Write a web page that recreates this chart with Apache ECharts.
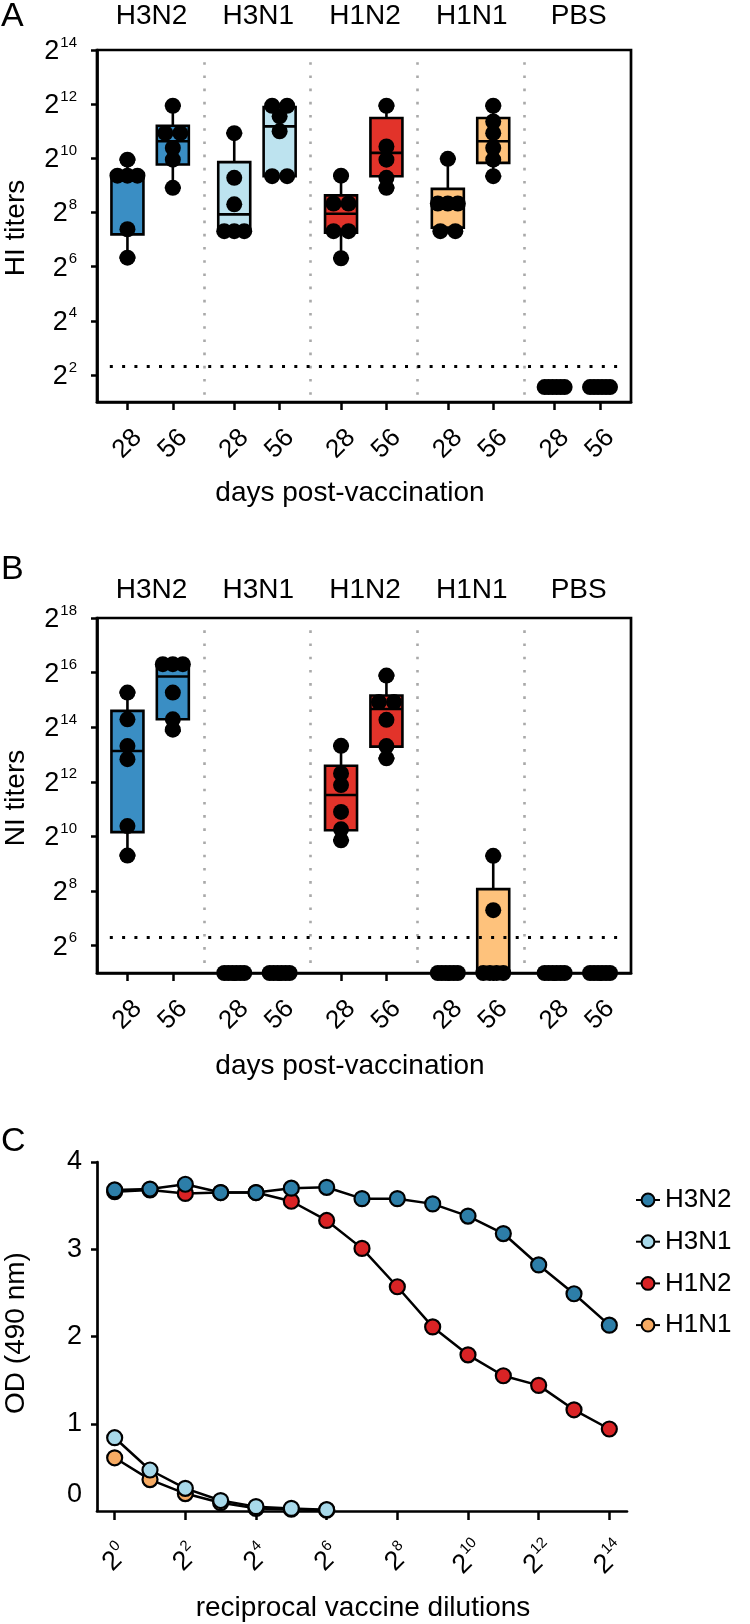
<!DOCTYPE html>
<html><head><meta charset="utf-8">
<script src="https://cdn.jsdelivr.net/npm/echarts@6/dist/echarts.min.js"></script>
<style>html,body{margin:0;padding:0;background:#fff}#c{width:750px;height:1624px}</style>
</head><body><div id="c"></div>
<script>
// ---------- DATA ----------
const groups = ['H3N2', 'H3N1', 'H1N2', 'H1N1', 'PBS'];
const dayLabels = ['28', '56'];

// Panel A: HI titers (log2 exponents), six animals each
const hi_H3N2_d28 = [9.95, 9.36, 9.36, 9.36, 7.38, 6.33];
const hi_H3N2_d56 = [11.94, 10.93, 10.93, 10.38, 9.95, 8.91];
const hi_H3N1_d28 = [10.93, 9.28, 8.30, 7.31, 7.31, 7.31];
const hi_H3N1_d56 = [11.94, 11.94, 11.55, 11.00, 9.34, 9.34];
const hi_H1N2_d28 = [9.36, 8.33, 8.33, 7.31, 7.31, 6.31];
const hi_H1N2_d56 = [11.94, 10.44, 9.95, 9.28, 8.91];
const hi_H1N1_d28 = [9.98, 8.33, 8.33, 8.33, 7.31, 7.31];
const hi_H1N1_d56 = [11.94, 11.36, 10.93, 10.38, 9.95, 9.34];
const hi_PBS_d28 = [1.55, 1.55, 1.55, 1.55, 1.55, 1.55];
const hi_PBS_d56 = [1.55, 1.55, 1.55, 1.55, 1.55, 1.55];
// box stats [min, q1, median, q3, max]
const hiBox_H3N2 = [[6.33, 7.19, 9.36, 9.46, 9.95], [8.91, 9.77, 10.63, 11.20, 11.94]];
const hiBox_H3N1 = [[7.31, 7.31, 7.93, 9.86, 10.93], [9.34, 9.34, 11.18, 11.89, 11.94]];
const hiBox_H1N2 = [[6.31, 7.25, 7.95, 8.63, 9.36], [8.91, 9.34, 10.20, 11.49, 11.94]];
const hiBox_H1N1 = [[7.31, 7.44, 8.33, 8.87, 9.98], [9.34, 9.83, 10.63, 11.49, 11.94]];
const hiBox_PBS = [[1.55, 1.55, 1.55, 1.55, 1.55], [1.55, 1.55, 1.55, 1.55, 1.55]];
const hiLimit = 2.32;

// Panel B: NI titers (log2 exponents)
const ni_H3N2_d28 = [15.27, 14.29, 13.31, 12.83, 10.38, 9.30];
const ni_H3N2_d56 = [16.31, 16.31, 16.31, 15.27, 14.29, 13.91];
const ni_H3N1_d28 = [5, 5, 5, 5, 5, 5];
const ni_H3N1_d56 = [5, 5, 5, 5, 5, 5];
const ni_H1N2_d28 = [13.32, 12.31, 11.88, 10.90, 10.26, 9.86];
const ni_H1N2_d56 = [15.89, 14.92, 14.92, 14.27, 13.31, 12.86];
const ni_H1N1_d28 = [5, 5, 5, 5, 5, 5];
const ni_H1N1_d56 = [9.29, 7.30, 5, 5, 5, 5];
const ni_PBS_d28 = [5, 5, 5, 5, 5, 5];
const ni_PBS_d56 = [5, 5, 5, 5, 5, 5];
const niBox_H3N2 = [[9.30, 10.16, 13.13, 14.60, 15.27], [13.87, 14.29, 15.86, 16.31, 16.31]];
const niBox_H3N1 = [[5, 5, 5, 5, 5], [5, 5, 5, 5, 5]];
const niBox_H1N2 = [[9.86, 10.23, 11.52, 12.59, 13.32], [12.86, 13.29, 14.67, 15.16, 15.89]];
const niBox_H1N1 = [[5, 5, 5, 5, 5], [5, 5, 5, 8.07, 9.29]];
const niBox_PBS = [[5, 5, 5, 5, 5], [5, 5, 5, 5, 5]];
const niLimit = 6.32;

// Panel C: OD (490 nm) vs log2 reciprocal dilution
const dilutionExp = [0, 1, 2, 3, 4, 5, 6, 7, 8, 9, 10, 11, 12, 13, 14];
const od_H3N2 = [3.68, 3.69, 3.745, 3.65, 3.65, 3.70, 3.71, 3.58, 3.58, 3.52, 3.38, 3.18, 2.82, 2.49, 2.13];
const od_H1N2 = [3.66, 3.68, 3.64, 3.65, 3.65, 3.55, 3.33, 3.01, 2.57, 2.11, 1.79, 1.55, 1.44, 1.16, 0.94];
const od_H3N1 = [0.84, 0.47, 0.26, 0.12, 0.05, 0.03, 0.015];
const od_H1N1 = [0.61, 0.36, 0.20, 0.095, 0.03, 0.02, 0.01];

const yTicksA = [2, 4, 6, 8, 10, 12, 14];
const yTicksB = [6, 8, 10, 12, 14, 16, 18];
const xTicksC = [0, 2, 4, 6, 8, 10, 12, 14];

// ---------- STYLE / LAYOUT ----------
const FONT = "'Liberation Sans', Arial, Helvetica, sans-serif";
const boxColors = ['#3a8ec4', '#bde3ef', '#e2332a', '#fec27c', '#d0d0d0'];
const lineColors = {H3N2: '#2d7ea8', H3N1: '#a8d9ea', H1N2: '#d92325', H1N1: '#f7ab63'};
const dayPos = [0.285, 0.71];
const gA = {left: 97, top: 50, width: 534, height: 352};
const gB = {left: 97, top: 618, width: 534, height: 355};
const gC = {left: 97, top: 1162, width: 530, height: 349};
const yA = [1, 14], yB = [5, 18];
const AX = 2.7;
const DOT = 16;

const hiDots = [[hi_H3N2_d28, hi_H3N2_d56], [hi_H3N1_d28, hi_H3N1_d56], [hi_H1N2_d28, hi_H1N2_d56], [hi_H1N1_d28, hi_H1N1_d56], [hi_PBS_d28, hi_PBS_d56]];
const hiBoxes = [hiBox_H3N2, hiBox_H3N1, hiBox_H1N2, hiBox_H1N1, hiBox_PBS];
const niDots = [[ni_H3N2_d28, ni_H3N2_d56], [ni_H3N1_d28, ni_H3N1_d56], [ni_H1N2_d28, ni_H1N2_d56], [ni_H1N1_d28, ni_H1N1_d56], [ni_PBS_d28, ni_PBS_d56]];
const niBoxes = [niBox_H3N2, niBox_H3N1, niBox_H1N2, niBox_H1N1, niBox_PBS];

// cluster nearly-equal values side by side (pixel offsets)
function swarm(vals) {
  const idx = vals.map((v, i) => i).sort((a, b) => vals[a] - vals[b]);
  const off = new Array(vals.length).fill(0);
  let i = 0;
  while (i < idx.length) {
    let j = i;
    while (j + 1 < idx.length && vals[idx[j + 1]] - vals[idx[i]] < 0.3) j++;
    const n = j - i + 1;
    if (n > 1) {
      const sp = n === 2 ? 15 : Math.min(10, 20 / (n - 1));
      for (let k = 0; k < n; k++) off[idx[i + k]] = (k - (n - 1) / 2) * sp;
    }
    i = j + 1;
  }
  return off;
}

function buildDots(dots, grid) {
  const pxPerGroup = grid.width / 5;
  const out = [];
  dots.forEach((pair, gi) => pair.forEach((vals, di) => {
    const off = swarm(vals);
    vals.forEach((v, k) => out.push([gi + dayPos[di] + off[k] / pxPerGroup, v]));
  }));
  return out;
}
function buildBoxes(boxes) {
  const out = [];
  boxes.forEach((pair, gi) => pair.forEach((b, di) => out.push([gi + dayPos[di], ...b, gi])));
  return out;
}
function renderBox(params, api) {
  const x = api.value(0);
  const p = k => api.coord([x, api.value(k)]);
  const pMin = p(1), pQ1 = p(2), pMed = p(3), pQ3 = p(4), pMax = p(5);
  const cx = pMin[0], bw = 32, cap = 8;
  const st = {stroke: '#000', lineWidth: 2.6};
  return {type: 'group', children: [
    {type: 'line', shape: {x1: cx, y1: pMin[1], x2: cx, y2: pQ1[1]}, style: st},
    {type: 'line', shape: {x1: cx, y1: pQ3[1], x2: cx, y2: pMax[1]}, style: st},
    {type: 'line', shape: {x1: cx - cap, y1: pMin[1], x2: cx + cap, y2: pMin[1]}, style: st},
    {type: 'line', shape: {x1: cx - cap, y1: pMax[1], x2: cx + cap, y2: pMax[1]}, style: st},
    {type: 'rect', shape: {x: cx - bw / 2, y: pQ3[1], width: bw, height: pQ1[1] - pQ3[1]},
      style: {fill: boxColors[api.value(6)], stroke: '#000', lineWidth: 2.6}},
    {type: 'line', shape: {x1: cx - bw / 2, y1: pMed[1], x2: cx + bw / 2, y2: pMed[1]}, style: st}
  ]};
}

const supRich = {
  b: {fontSize: 27, fontFamily: FONT, color: '#000', verticalAlign: 'bottom', lineHeight: 30},
  s: {fontSize: 15, fontFamily: FONT, color: '#000', verticalAlign: 'top', lineHeight: 30, padding: [0, 0, 0, 1]}
};

function catXAxis(gridIndex) {
  const ticks = [];
  for (let g = 0; g < groups.length; g++) dayPos.forEach(d => ticks.push(g + d));
  return {
    type: 'value', gridIndex, min: 0, max: 5, position: 'bottom',
    axisLine: {show: true, onZero: false, lineStyle: {color: '#000', width: AX}},
    axisTick: {show: true, customValues: ticks, length: 8, inside: false, lineStyle: {color: '#000', width: 2.5}},
    splitLine: {show: false},
    axisLabel: {
      customValues: ticks, rotate: 45, align: 'center', verticalAlign: 'middle', margin: 42,
      fontSize: 26, fontFamily: FONT, color: '#000',
      formatter: v => dayLabels[(v - Math.floor(v)) < 0.5 ? 0 : 1]
    }
  };
}
function logYAxis(gridIndex, range, ticks) {
  return {
    type: 'value', gridIndex, min: range[0], max: range[1],
    axisLine: {show: true, onZero: false, lineStyle: {color: '#000', width: AX}},
    axisTick: {show: true, customValues: ticks, length: 6, lineStyle: {color: '#000', width: 2.5}},
    splitLine: {show: false},
    axisLabel: {customValues: ticks, margin: 20, formatter: v => `{b|2}{s|${v}}`, rich: supRich}
  };
}
function markLines(range, limit) {
  const sepStyle = {color: '#a9a9a9', type: [2.6, 10.6], width: 2.6};
  const seps = [1, 2, 3, 4].map(x => [{coord: [x, range[1] - 0.45], lineStyle: sepStyle}, {coord: [x, range[0]]}]);
  return {
    silent: true, symbol: ['none', 'none'], label: {show: false}, animation: false,
    data: seps.concat([[{coord: [0.12, limit], lineStyle: {color: '#000', type: [3, 9.3], width: 3}}, {coord: [4.94, limit]}]])
  };
}

const chart = echarts.init(document.getElementById('c'), null, {renderer: 'canvas', width: 750, height: 1624});

const gridCommon = {show: true, borderColor: '#000', borderWidth: AX, backgroundColor: 'transparent', containLabel: false};
const graphics = [];
function txt(text, x, y, size, opts = {}) {
  graphics.push(Object.assign({type: 'text', x, y, silent: true,
    style: {text, fontSize: size, fontFamily: FONT, fill: '#000', align: opts.align || 'center', verticalAlign: 'middle'}},
    opts.rotation ? {rotation: opts.rotation} : {}));
}
txt('A', 1, 17, 34, {align: 'left'});
txt('B', 1, 570, 34, {align: 'left'});
txt('C', 1, 1142, 34, {align: 'left'});
groups.forEach((g, i) => {
  txt(g, gA.left + (i + 0.51) * gA.width / 5, 16, 28);
  txt(g, gB.left + (i + 0.51) * gB.width / 5, 590, 28);
});
txt('days post-vaccination', 350, 493, 28);
txt('days post-vaccination', 350, 1066, 28);
txt('reciprocal vaccine dilutions', 363, 1608, 28);
txt('HI titers', 16, 228, 28, {rotation: Math.PI / 2});
txt('NI titers', 16, 798, 28, {rotation: Math.PI / 2});
txt('OD (490 nm)', 16, 1333, 28, {rotation: Math.PI / 2});

function lineSeries(name, data) {
  return {
    name, type: 'line', xAxisIndex: 2, yAxisIndex: 2, clip: false,
    data: data.map((v, i) => [dilutionExp[i], v]),
    symbol: 'circle', symbolSize: 15, showSymbol: true,
    lineStyle: {color: '#000', width: 2.5},
    itemStyle: {color: lineColors[name], borderColor: '#000', borderWidth: 2.2}
  };
}
function dotSeries(idx, data, range, limit) {
  return {type: 'scatter', xAxisIndex: idx, yAxisIndex: idx, clip: false, symbolSize: DOT,
    itemStyle: {color: '#000', opacity: 1}, emphasis: {disabled: true}, data, z: 3,
    markLine: markLines(range, limit)};
}

const option = {
  animation: false,
  backgroundColor: '#fff',
  grid: [Object.assign({}, gridCommon, gA), Object.assign({}, gridCommon, gB),
         Object.assign({}, gC, {show: false, containLabel: false})],
  xAxis: [catXAxis(0), catXAxis(1), {
    type: 'value', gridIndex: 2, min: -0.5, max: 14.5,
    axisLine: {show: true, onZero: false, lineStyle: {color: '#000', width: AX}},
    axisTick: {show: true, customValues: xTicksC, length: 9, lineStyle: {color: '#000', width: 2.5}},
    splitLine: {show: false},
    axisLabel: {customValues: xTicksC, rotate: 45, align: 'center', verticalAlign: 'middle', margin: 46,
      formatter: v => `{b|2}{s|${v}}`, rich: supRich}
  }],
  yAxis: [logYAxis(0, yA, yTicksA), logYAxis(1, yB, yTicksB), {
    type: 'value', gridIndex: 2, min: 0, max: 4, interval: 1,
    axisLine: {show: true, onZero: false, lineStyle: {color: '#000', width: AX}},
    axisTick: {show: true, customValues: [1, 2, 3, 4], length: 6, lineStyle: {color: '#000', width: 2.5}},
    splitLine: {show: false},
    axisLabel: {margin: 15, fontSize: 27, fontFamily: FONT, color: '#000',
      formatter: v => v === 0 ? '{z|0}' : String(v),
      rich: {z: {fontSize: 27, fontFamily: FONT, color: '#000', padding: [0, 0, 32, 0]}}}
  }],
  legend: {
    orient: 'vertical', left: 630, top: 1182, itemWidth: 24, itemHeight: 16, itemGap: 15.7,
    data: ['H3N2', 'H3N1', 'H1N2', 'H1N1'],
    textStyle: {fontSize: 26, fontFamily: FONT, color: '#000'}
  },
  graphic: graphics,
  series: [
    {type: 'custom', xAxisIndex: 0, yAxisIndex: 0, renderItem: renderBox, clip: false,
      encode: {x: 0, y: [1, 2, 3, 4, 5]}, data: buildBoxes(hiBoxes), z: 2},
    dotSeries(0, buildDots(hiDots, gA), yA, hiLimit),
    {type: 'custom', xAxisIndex: 1, yAxisIndex: 1, renderItem: renderBox, clip: false,
      encode: {x: 0, y: [1, 2, 3, 4, 5]}, data: buildBoxes(niBoxes), z: 2},
    dotSeries(1, buildDots(niDots, gB), yB, niLimit),
    lineSeries('H1N1', od_H1N1),
    lineSeries('H3N1', od_H3N1),
    lineSeries('H1N2', od_H1N2),
    lineSeries('H3N2', od_H3N2)
  ]
};
chart.setOption(option);
</script></body></html>
